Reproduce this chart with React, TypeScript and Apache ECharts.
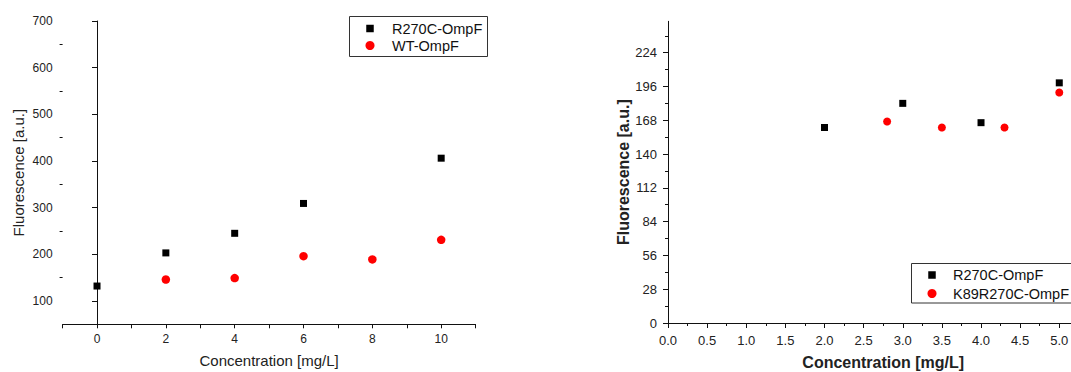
import React, { useEffect, useRef } from "react";
import * as echarts from "echarts";

// Left plot data
const leftR270C: [number, number][] = [[0, 132], [2, 203], [4, 245], [6, 309], [10, 406]];
const leftWT: [number, number][] = [[2, 146], [4, 149], [6, 196], [8, 189], [10, 231]];
const leftXLabels = [0, 2, 4, 6, 8, 10];
const leftYLabels = [100, 200, 300, 400, 500, 600, 700];
const leftYMinor = [150, 250, 350, 450, 550, 650];
const leftLegend = ["R270C-OmpF", "WT-OmpF"];

// Right plot data
const rightR270C: [number, number][] = [[2, 162], [3, 182], [4, 166], [5, 199]];
const rightK89: [number, number][] = [[2.8, 167], [3.5, 162], [4.3, 162], [5, 191]];
const rightXLabels = [0, 0.5, 1, 1.5, 2, 2.5, 3, 3.5, 4, 4.5, 5];
const rightYLabels = [0, 28, 56, 84, 112, 140, 168, 196, 224];
const rightLegend = ["R270C-OmpF", "K89R270C-OmpF"];

const FONT = 'Arial, "Liberation Sans", sans-serif';
const TXT = "#222";
const LINE = "#111";

function legendBox(x: number, y: number, w: number, h: number, names: string[], rowY: number[], iconX: number, textX: number) {
  const txtStyle = (t: string, cy: number) => ({
    type: "text",
    x: textX,
    y: cy,
    silent: true,
    style: { text: t, fontSize: 14.5, fontFamily: FONT, fill: "#111", verticalAlign: "middle", align: "left" },
    z: 101,
  });
  return {
    type: "group",
    children: [
      {
        type: "rect",
        shape: { x, y, width: w, height: h },
        style: { fill: "#fff", stroke: "#333", lineWidth: 1 },
        z: 100,
      },
      {
        type: "rect",
        shape: { x: iconX - 3.75, y: rowY[0] - 3.75, width: 7.5, height: 7.5 },
        style: { fill: "#000" },
        z: 101,
      },
      txtStyle(names[0], rowY[0]),
      {
        type: "circle",
        shape: { cx: iconX, cy: rowY[1], r: 4.5 },
        style: { fill: "#ff0000" },
        z: 101,
      },
      txtStyle(names[1], rowY[1]),
    ],
  };
}

export default function App() {
  const ref = useRef<HTMLDivElement>(null);
  useEffect(() => {
    if (!ref.current) return;
    const chart = echarts.init(ref.current, undefined, { renderer: "svg" });
    const axisLine = { show: true, lineStyle: { color: LINE, width: 1 } };
    const option: any = {
      animation: false,
      textStyle: { fontFamily: FONT },
      grid: [
        { left: 62.6, top: 21, width: 413, height: 303.3, outerBoundsMode: "none", containLabel: false },
        { left: 668, top: 21.3, width: 430.4, height: 301.7, outerBoundsMode: "none", containLabel: false },
      ],
      graphic: [
        legendBox(349.5, 16.5, 138, 40, leftLegend, [28.5, 45.5], 370, 392),
        legendBox(911.5, 263.5, 200, 39.5, rightLegend, [275, 293.5], 932, 953),
      ],
      xAxis: [
        {
          gridIndex: 0,
          type: "value",
          min: -1,
          max: 11,
          interval: 1,
          axisLine,
          axisTick: { show: true, length: 4, lineStyle: { color: LINE } },
          axisLabel: { customValues: leftXLabels, fontSize: 12, color: TXT, margin: 9, fontFamily: FONT },
          splitLine: { show: false },
          name: "Concentration [mg/L]",
          nameLocation: "middle",
          nameGap: 29,
          nameTextStyle: { fontSize: 15, color: TXT, fontFamily: FONT },
        },
        {
          gridIndex: 1,
          type: "value",
          min: 0,
          max: 5.5,
          interval: 0.5,
          axisLine,
          axisTick: { show: true, length: 5, lineStyle: { color: LINE } },
          minorTick: { show: true, splitNumber: 2, length: 3, lineStyle: { color: LINE } },
          axisLabel: {
            customValues: rightXLabels,
            fontSize: 13,
            color: TXT,
            margin: 11,
            fontFamily: FONT,
            formatter: (v: number) => v.toFixed(1),
          },
          splitLine: { show: false },
          name: "Concentration [mg/L]",
          nameLocation: "middle",
          nameGap: 31,
          nameTextStyle: { fontSize: 16, fontWeight: "bold", color: TXT, fontFamily: FONT },
        },
      ],
      yAxis: [
        {
          gridIndex: 0,
          type: "value",
          position: "left",
          min: 50,
          max: 700,
          interval: 50,
          axisLine,
          axisTick: { show: true, length: 5, customValues: leftYLabels, lineStyle: { color: LINE } },
          axisLabel: { customValues: leftYLabels, fontSize: 12, color: TXT, margin: 10, fontFamily: FONT },
          splitLine: { show: false },
          name: "Fluorescence [a.u.]",
          nameLocation: "middle",
          nameGap: 37,
          nameTextStyle: { fontSize: 15, color: TXT, fontFamily: FONT },
        },
        {
          gridIndex: 0,
          type: "value",
          position: "left",
          offset: 0,
          min: 50,
          max: 700,
          interval: 50,
          axisLine: { show: false },
          axisTick: { show: true, length: 3, customValues: leftYMinor, lineStyle: { color: LINE } },
          axisLabel: { show: false },
          splitLine: { show: false },
        },
        {
          gridIndex: 1,
          type: "value",
          position: "left",
          min: 0,
          max: 250,
          interval: 28,
          axisLine,
          axisTick: { show: true, length: 5, customValues: rightYLabels, lineStyle: { color: LINE } },
          minorTick: { show: true, splitNumber: 2, length: 3, lineStyle: { color: LINE } },
          axisLabel: { customValues: rightYLabels, fontSize: 13, color: TXT, margin: 11, fontFamily: FONT },
          splitLine: { show: false },
          name: "Fluorescence [a.u.]",
          nameLocation: "middle",
          nameGap: 37,
          nameTextStyle: { fontSize: 16, fontWeight: "bold", color: TXT, fontFamily: FONT },
        },
      ],
      series: [
        {
          type: "scatter",
          name: leftLegend[0],
          xAxisIndex: 0,
          yAxisIndex: 0,
          symbol: "rect",
          symbolSize: 7,
          itemStyle: { color: "#000", opacity: 1 },
          data: leftR270C,
        },
        {
          type: "scatter",
          name: leftLegend[1],
          xAxisIndex: 0,
          yAxisIndex: 0,
          symbol: "circle",
          symbolSize: 8.5,
          itemStyle: { color: "#ff0000", opacity: 1 },
          data: leftWT,
        },
        {
          type: "scatter",
          name: rightLegend[0],
          xAxisIndex: 1,
          yAxisIndex: 2,
          symbol: "rect",
          symbolSize: 7,
          itemStyle: { color: "#000", opacity: 1 },
          data: rightR270C,
        },
        {
          type: "scatter",
          name: rightLegend[1],
          xAxisIndex: 1,
          yAxisIndex: 2,
          symbol: "circle",
          symbolSize: 8,
          itemStyle: { color: "#ff0000", opacity: 1 },
          data: rightK89,
        },
      ],
    };
    chart.setOption(option);
    return () => chart.dispose();
  }, []);
  return (
    <div
      ref={ref}
      style={{ position: "fixed", left: 0, top: 0, width: 1071, height: 372, background: "#fff" }}
    />
  );
}
